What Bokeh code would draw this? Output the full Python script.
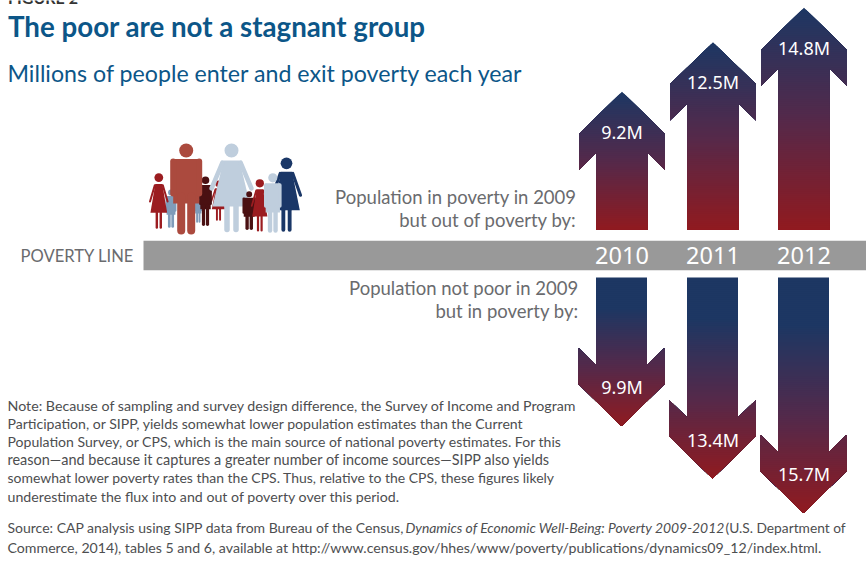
from bokeh.core.properties import value
from bokeh.embed import file_html
from bokeh.models import Range1d
from bokeh.plotting import figure
from bokeh.resources import INLINE

WIDTH, HEIGHT = 866, 571

years = ["2010", "2011", "2012"]
out_of_poverty = [9.2, 12.5, 14.8]
into_poverty = [9.9, 13.4, 15.7]
column_x = [621.5, 712.5, 803.5]

title = "The poor are not a stagnant group"
subtitle = "Millions of people enter and exit poverty each year"
figure_tag = "FIGURE 2"
poverty_line = "POVERTY LINE"
up_caption = ["Population in poverty in 2009", "but out of poverty by:"]
down_caption = ["Population not poor in 2009", "but in poverty by:"]
note_lines = [
    "Note: Because of sampling and survey design difference, the Survey of Income and Program",
    "Participation, or SIPP, yields somewhat lower population estimates than the Current",
    "Population Survey, or CPS, which is the main source of national poverty estimates. For this",
    "reason\u2014and because it captures a greater number of income sources\u2014SIPP also yields",
    "somewhat lower poverty rates than the CPS. Thus, relative to the CPS, these figures likely",
    "underestimate the flux into and out of poverty over this period.",
]
source_a = "Source: CAP analysis using SIPP data from Bureau of the Census,"
source_b = "Dynamics of Economic Well-Being: Poverty 2009-2012"
source_c = "(U.S. Department of"
source_line2 = "Commerce, 2014), tables 5 and 6, available at http://www.census.gov/hhes/www/poverty/publications/dynamics09_12/index.html."

FONT = "Lato"
NUMERAL_FONT = "Noto Sans"
NAVY = "#1d3763"
MID = "#55294a"
RED = "#911a1f"
BLUE_TEXT = "#0c5688"
GREY_TEXT = "#6a6b6e"
BODY_TEXT = "#4d4e50"
NOTE_SIZES = [14.22, 14.08, 14.05, 14.46, 13.97, 14.2]

# Vertical scale of the arrows: 15 screen pixels per million people.
PX_PER_M = 15.0
UP_BASE, DOWN_BASE = 229.3, 277.0

p = figure(width=WIDTH, height=HEIGHT, output_backend="svg", toolbar_location=None,
           x_range=Range1d(0, WIDTH), y_range=Range1d(HEIGHT, 0), min_border=0)
p.axis.visible = False
p.grid.visible = False
p.outline_line_color = None
p.background_fill_color = "white"
p.border_fill_color = "white"
p.extra_y_ranges = {
    "above": Range1d(-(HEIGHT - UP_BASE) / PX_PER_M, UP_BASE / PX_PER_M),
    "below": Range1d((HEIGHT - DOWN_BASE) / PX_PER_M, -DOWN_BASE / PX_PER_M),
}


def label(x, y, text, size, color, align="left", style="normal", font=FONT):
    p.text([x], [y], text=[text], text_font=value(font), text_font_size=f"{size}px",
           text_color=color, text_align=align, text_baseline="middle", text_font_style=style)


def lerp_hex(a, b, t):
    ca = [int(a[i:i + 2], 16) for i in (1, 3, 5)]
    cb = [int(b[i:i + 2], 16) for i in (1, 3, 5)]
    return "#" + "".join(f"{round(u + (v - u) * t):02x}" for u, v in zip(ca, cb))


def ramp(t):
    return lerp_hex(NAVY, MID, t / 0.5) if t < 0.5 else lerp_hex(MID, RED, (t - 0.5) / 0.5)


def clip(poly, level, keep_above):
    """Clip a polygon to one side of a horizontal line."""
    inside = (lambda q: q[1] >= level) if keep_above else (lambda q: q[1] <= level)
    result = []
    for i, cur in enumerate(poly):
        prev = poly[i - 1]
        if inside(cur) != inside(prev):
            f = (level - prev[1]) / (cur[1] - prev[1])
            result.append((prev[0] + (cur[0] - prev[0]) * f, level))
        if inside(cur):
            result.append(cur)
    return result


def arrow(cx, amount, range_name, navy_at_tip, delay):
    """Arrow whose tip sits at `amount` millions, painted as nested colour bands."""
    unit = 1 / PX_PER_M
    half_head, half_shaft = 43.0, 25.5
    shoulder, notch, barb = 42 * unit, 61 * unit, 78 * unit
    outline = [
        (cx, amount), (cx + half_head, amount - shoulder), (cx + half_head, amount - barb),
        (cx + half_shaft, amount - notch), (cx + half_shaft, 0), (cx - half_shaft, 0),
        (cx - half_shaft, amount - notch), (cx - half_head, amount - barb),
        (cx - half_head, amount - shoulder),
    ]
    bands = int(amount * PX_PER_M / 2)
    xs, ys, colors = [], [], []
    for i in range(bands):
        f = i / bands
        level = amount * (1 - f) if navy_at_tip else amount * f
        shape = clip(outline, level, keep_above=not navy_at_tip)
        if len(shape) < 3:
            continue
        xs.append([q[0] for q in shape])
        ys.append([q[1] for q in shape])
        colors.append(ramp(max(0.0, (f - delay) / (1 - delay))))
    p.patches(xs, ys, fill_color=colors, line_color=None, y_range_name=range_name)


def head(x, y, r, color):
    p.circle([x], [y], radius=r, fill_color=color, line_color=None)


def stroke(xs, ys, width, color):
    p.line(xs, ys, line_width=width, line_color=color, line_cap="round", line_join="round")


def man(x, top, bottom, sx, color):
    """Pictogram of a standing man; sx is its width relative to the tallest adult."""
    sy = (bottom - top) / 90
    head(x, top + 7 * sy, 7 * sy, color)
    sh = top + 18 * sy
    p.quad([x - 13 * sx], [x + 13 * sx], [sh - 2.5 * sy], [sh + 42 * sy], fill_color=color, line_color=None)
    stroke([x - 13 * sx, x - 13 * sx], [sh, sh + 32 * sy], 6 * sx, color)
    stroke([x + 13 * sx, x + 13 * sx], [sh, sh + 32 * sy], 6 * sx, color)
    stroke([x - 5 * sx, x - 5 * sx], [sh + 35 * sy, bottom - 3 * sx], 8 * sx, color)
    stroke([x + 5 * sx, x + 5 * sx], [sh + 35 * sy, bottom - 3 * sx], 8 * sx, color)


def woman(x, top, bottom, sx, color):
    """Pictogram of a standing woman in a dress."""
    sy = (bottom - top) / 88
    head(x, top + 7 * sy, 7 * sy, color)
    sh = top + 17 * sy
    hem = sh + 46 * sy
    p.patch([x - 8 * sx, x + 8 * sx, x + 19 * sx, x - 19 * sx], [sh, sh, hem, hem],
            fill_color=color, line_color=None)
    stroke([x - 9 * sx, x - 20 * sx], [sh + 2 * sy, sh + 28 * sy], 4.5 * sx, color)
    stroke([x + 9 * sx, x + 20 * sx], [sh + 2 * sy, sh + 28 * sy], 4.5 * sx, color)
    stroke([x - 4.5 * sx, x - 4.5 * sx], [hem, bottom - 2 * sx], 5.5 * sx, color)
    stroke([x + 4.5 * sx, x + 4.5 * sx], [hem, bottom - 2 * sx], 5.5 * sx, color)


# Header
label(7.5, -3, figure_tag, 16, "#333333", style="bold")
label(7.5, 25.5, title, 27.7, BLUE_TEXT, style="bold")
label(7, 72.5, subtitle, 23.2, BLUE_TEXT)

# Family group, back row first
STEEL, LIGHT, BRICK, CRIMSON, MAROON, DEEP = "#7f9cba", "#bfcedd", "#ab4a3e", "#9b1c20", "#4a1012", "#1a3767"
man(170.5, 189, 227, 0.34, STEEL)
man(197.8, 195, 222, 0.24, STEEL)
woman(218, 180, 220, 0.35, CRIMSON)
man(205, 176, 225, 0.4, MAROON)
woman(158.3, 172.7, 228, 0.44, CRIMSON)
man(185.7, 143, 233, 1.0, BRICK)
woman(231, 143, 231, 1.0, LIGHT)
man(248.7, 190.7, 229, 0.42, MAROON)
woman(259.3, 178.7, 230.7, 0.4, CRIMSON)
woman(286, 157, 230.7, 0.7, DEEP)
man(272.3, 172.7, 231.7, 0.55, LIGHT)

# Poverty line band with the year labels
p.quad([143], [WIDTH], [240.3], [269.7], fill_color="#999999", line_color=None)
label(20, 255, poverty_line, 16.6, GREY_TEXT)
for x, year in zip(column_x, years):
    label(x, 255, year, 23.5, "white", align="center", font=NUMERAL_FONT)

# Arrows out of poverty (upward) and into poverty (downward)
for x, amount in zip(column_x, out_of_poverty):
    arrow(x, amount, "above", True, 0.0)
    tip = UP_BASE - amount * PX_PER_M
    label(x, tip + 40, f"{amount}M", 18, "white", align="center", font=NUMERAL_FONT)
for x, amount in zip(column_x, into_poverty):
    arrow(x - 0.5, amount, "below", False, 0.2)
    tip = DOWN_BASE + amount * PX_PER_M
    label(x, tip - 39, f"{amount}M", 18, "white", align="center", font=NUMERAL_FONT)

# Captions beside the arrows
label(576, 196, up_caption[0], 18.5, GREY_TEXT, align="right")
label(576, 219, up_caption[1], 18.5, GREY_TEXT, align="right")
label(578, 287, down_caption[0], 18.5, GREY_TEXT, align="right")
label(578, 310, down_caption[1], 18.5, GREY_TEXT, align="right")

# Footnotes
for i, (line, size) in enumerate(zip(note_lines, NOTE_SIZES)):
    label(7, 404.5 + i * 18.2, line, size, BODY_TEXT)
label(7, 526.5, source_a, 14, BODY_TEXT)
label(405, 526.5, source_b, 13.9, BODY_TEXT, style="italic")
label(725, 526.5, source_c, 13.75, BODY_TEXT)
label(7, 546.5, source_line2, 14.16, BODY_TEXT)

open("out.html", "w").write(file_html(p, INLINE))
